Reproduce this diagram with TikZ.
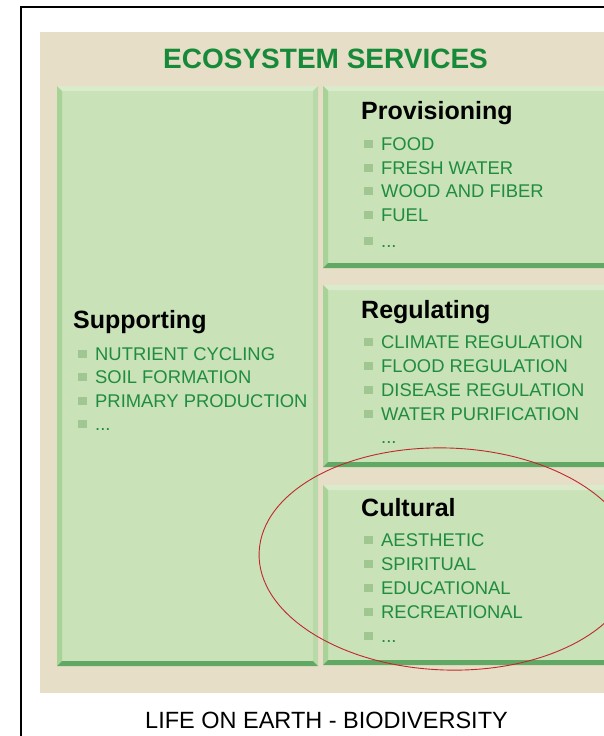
\documentclass[tikz,border=0pt]{standalone}
\usepackage{fontspec}
\usetikzlibrary{shapes.geometric}
\setmainfont{Liberation Sans}
\definecolor{beige}{HTML}{E6DEC6}
\definecolor{boxfill}{HTML}{C9E2B8}
\definecolor{bevtop}{HTML}{DAEBCC}
\definecolor{bevleft}{HTML}{A8D398}
\definecolor{bevright}{HTML}{B9DAA8}
\definecolor{bevbot}{HTML}{62A865}
\definecolor{titlegreen}{HTML}{178A3A}
\definecolor{itemgreen}{HTML}{1F8C40}
\definecolor{bulletc}{HTML}{A0C792}
\definecolor{ringred}{HTML}{C0282D}
\newcommand{\bevbox}[5]{% name, x1, y1, x2, y2
  \fill[boxfill] (#2,#3) rectangle (#4,#5);
  \fill[bevtop] (#2,#3) -- (#4,#3) -- ({#4-5},{#3+5}) -- ({#2+5},{#3+5}) -- cycle;
  \fill[bevleft] (#2,#3) -- ({#2+5},{#3+5}) -- ({#2+5},{#5-5}) -- (#2,#5) -- cycle;
  \fill[bevright] (#4,#3) -- ({#4-5},{#3+5}) -- ({#4-5},{#5-5}) -- (#4,#5) -- cycle;
  \fill[bevbot] (#2,#5) -- (#4,#5) -- ({#4-5},{#5-5}) -- ({#2+5},{#5-5}) -- cycle;
  \coordinate (#1) at (#2,#3);
}
\newcommand{\bitem}[4]{% name, x, ycenter, text
  \fill[bulletc] ({#2},{#3-4}) rectangle ({#2+8.5},{#3+4});
  \node[itemtext] (#1) at ({#2+17},{#3+6.6}) {#4};
}
\begin{document}
\begin{tikzpicture}[x=1pt,y=-1pt,
  itemtext/.style={anchor=base west,inner sep=0pt,text=itemgreen,font=\fontsize{18.4}{18.4}\selectfont},
  headtext/.style={anchor=base west,inner sep=0pt,text=black,font=\bfseries\fontsize{25}{25}\selectfont}]
\useasboundingbox (0,0) rectangle (604,736);
\clip (0,0) rectangle (604,736);
\fill[white] (0,0) rectangle (604,736);
% frame
\draw[black,line width=1.8pt] (21,745) -- (21,7) -- (615,7);
% beige panel
\fill[beige] (40,32) rectangle (615,693);
\node[anchor=base west,inner sep=0pt,text=titlegreen,font=\bfseries\fontsize{28}{28}\selectfont] (title) at (163,68.5) {ECOSYSTEM SERVICES};
% boxes
\bevbox{supbox}{57}{86}{318}{666}
\bevbox{probox}{323}{86}{615}{268}
\bevbox{regbox}{323}{285}{615}{467}
\bevbox{culbox}{323}{485}{615}{665}
% Supporting
\node[headtext] (sup) at (73,328) {Supporting};
\bitem{s1}{78}{353.5}{NUTRIENT CYCLING}
\bitem{s2}{78}{377}{SOIL FORMATION}
\bitem{s3}{78}{400.5}{PRIMARY PRODUCTION}
\bitem{s4}{78}{424}{...}
% Provisioning
\node[headtext] (pro) at (361,119) {Provisioning};
\bitem{p1}{364}{144}{FOOD}
\bitem{p2}{364}{167.5}{FRESH WATER}
\bitem{p3}{364}{191}{WOOD AND FIBER}
\bitem{p4}{364}{215}{FUEL}
\bitem{p5}{364}{241}{...}
% Regulating
\node[headtext] (reg) at (361,318) {Regulating};
\bitem{r1}{364}{342}{CLIMATE REGULATION}
\bitem{r2}{364}{366}{FLOOD REGULATION}
\bitem{r3}{364}{390}{DISEASE REGULATION}
\bitem{r4}{364}{414}{WATER PURIFICATION}
\node[itemtext] (r5) at (381,443.5) {...};
% Cultural
\node[headtext] (cul) at (361,516) {Cultural};
\bitem{c1}{364}{540}{AESTHETIC}
\bitem{c2}{364}{564}{SPIRITUAL}
\bitem{c3}{364}{588}{EDUCATIONAL}
\bitem{c4}{364}{612}{RECREATIONAL}
\bitem{c5}{364}{636}{...}
% red ring
\node[draw=ringred,line width=0.9pt,ellipse,inner sep=0pt,rotate=-2,
  minimum width=376pt,minimum height=222pt] (ring) at (447,559) {};
% bottom caption
\node[inner sep=0pt,anchor=base west,font=\fontsize{23.5}{23.5}\selectfont] (life) at (145,728) {LIFE ON EARTH - BIODIVERSITY};
\end{tikzpicture}
\end{document}
